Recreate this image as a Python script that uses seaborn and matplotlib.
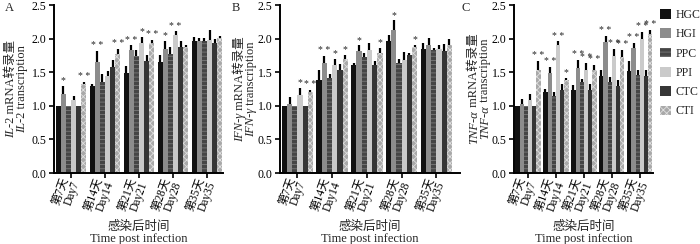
import numpy as np
import pandas as pd
import matplotlib
matplotlib.use("Agg")
import matplotlib.pyplot as plt
import matplotlib.transforms as mtransforms
from matplotlib.patches import Patch
import seaborn as sns

days = ['第7天\nDay7', '第14天\nDay14', '第21天\nDay21', '第28天\nDay28', '第35天\nDay35']
groups = ['HGC', 'HGI', 'PPC', 'PPI', 'CTC', 'CTI']

# IL-2
il2_mean = {
    'HGC': [1.00, 1.29, 1.49, 1.65, 1.96],
    'HGI': [1.17, 1.65, 1.83, 1.85, 1.97],
    'PPC': [1.00, 1.35, 1.74, 1.77, 1.96],
    'PPI': [1.08, 1.44, 1.93, 2.05, 1.98],
    'CTC': [1.00, 1.57, 1.67, 1.87, 1.94],
    'CTI': [1.33, 1.77, 1.94, 1.87, 2.01],
}
il2_err = {
    'HGC': [0.00, 0.04, 0.10, 0.11, 0.06],
    'HGI': [0.13, 0.17, 0.07, 0.12, 0.04],
    'PPC': [0.00, 0.13, 0.09, 0.10, 0.05],
    'PPI': [0.07, 0.08, 0.10, 0.06, 0.15],
    'CTC': [0.00, 0.11, 0.08, 0.09, 0.06],
    'CTI': [0.03, 0.08, 0.04, 0.03, 0.03],
}
il2_stars = [(0, 'HGI', '*'), (0, 'CTI', '* *'), (1, 'HGI', '* *'), (1, 'CTI', '* *'),
             (2, 'HGI', '* *'), (2, 'PPI', '*'), (2, 'CTI', '* *'), (3, 'HGI', '*'), (3, 'PPI', '* *')]

# IFN-gamma
ifn_mean = {
    'HGC': [1.00, 1.38, 1.60, 1.96, 1.85],
    'HGI': [1.03, 1.63, 1.81, 2.13, 1.90],
    'PPC': [1.00, 1.42, 1.72, 1.63, 1.83],
    'PPI': [1.16, 1.61, 1.83, 1.68, 1.85],
    'CTC': [1.00, 1.54, 1.60, 1.75, 1.82],
    'CTI': [1.21, 1.69, 1.79, 1.88, 1.91],
}
ifn_err = {
    'HGC': [0.00, 0.15, 0.04, 0.09, 0.08],
    'HGI': [0.10, 0.11, 0.09, 0.14, 0.11],
    'PPC': [0.00, 0.05, 0.07, 0.07, 0.03],
    'PPI': [0.11, 0.09, 0.10, 0.12, 0.06],
    'CTC': [0.00, 0.08, 0.07, 0.03, 0.10],
    'CTI': [0.03, 0.07, 0.07, 0.03, 0.09],
}
ifn_stars = [(0, 'PPI', '*'), (0, 'CTI', '* *'), (1, 'HGI', '* *'), (1, 'PPI', '*'), (1, 'CTI', '*'),
             (2, 'HGI', '*'), (2, 'CTI', '*'), (3, 'HGI', '*'), (3, 'CTI', '*')]

# TNF-alpha
tnf_mean = {
    'HGC': [1.00, 1.21, 1.23, 1.45, 1.52],
    'HGI': [1.03, 1.49, 1.56, 1.95, 1.86],
    'PPC': [1.00, 1.14, 1.35, 1.35, 1.46],
    'PPI': [1.09, 1.90, 1.53, 1.74, 1.99],
    'CTC': [1.00, 1.23, 1.23, 1.30, 1.45],
    'CTI': [1.53, 1.38, 1.53, 1.73, 2.07],
}
tnf_err = {
    'HGC': [0.00, 0.04, 0.08, 0.08, 0.14],
    'HGI': [0.07, 0.09, 0.12, 0.09, 0.08],
    'PPC': [0.00, 0.07, 0.05, 0.08, 0.08],
    'PPI': [0.08, 0.06, 0.11, 0.11, 0.11],
    'CTC': [0.00, 0.10, 0.09, 0.09, 0.08],
    'CTI': [0.14, 0.03, 0.08, 0.10, 0.06],
}
tnf_stars = [(0, 'CTI', '* *'), (1, 'HGI', '* *'), (1, 'PPI', '* *'), (1, 'CTI', '*'),
             (2, 'HGI', '* *'), (2, 'PPI', '* *'), (2, 'CTI', '* *'),
             (3, 'HGI', '* *'), (3, 'PPI', '* *'), (3, 'CTI', '* *'),
             (4, 'HGI', '* *'), (4, 'PPI', '* *'), (4, 'CTI', '* *')]

colors = {'HGC': '#111111', 'HGI': '#8c8c8c', 'PPC': '#454545',
          'PPI': '#cacaca', 'CTC': '#363636', 'CTI': '#a9a9a9'}
hatches = {'HGC': '', 'HGI': '', 'PPC': '----', 'PPI': '', 'CTC': '', 'CTI': 'xxxxx'}
hatch_col = {'HGC': '#111111', 'HGI': '#8c8c8c', 'PPC': '#7a7a7a',
             'PPI': '#cacaca', 'CTC': '#363636', 'CTI': '#e0e0e0'}

sns.set_style('ticks')
plt.rcParams['font.family'] = ['Liberation Serif', 'Noto Sans CJK SC']
plt.rcParams['hatch.linewidth'] = 0.6

fig = plt.figure(figsize=(7, 2.44), dpi=100)
W, H = 700, 244


def add_ax(x0, x1):
    return fig.add_axes([x0 / W, (H - 173) / H, (x1 - x0) / W, 168 / H])


def vlabel(x, pieces, size=9):
    texts = []
    for s, style in pieces:
        t = fig.text(x / W, (H - 89) / H, s, rotation=90, rotation_mode='anchor',
                     ha='left', va='center', fontsize=size, fontstyle=style)
        texts.append(t)
    fig.canvas.draw()
    r = fig.canvas.get_renderer()
    lens = [t.get_window_extent(r).height for t in texts]
    off = -sum(lens) / 2
    for t, L in zip(texts, lens):
        t.set_transform(fig.transFigure +
                        mtransforms.ScaledTranslation(0, off / fig.dpi, fig.dpi_scale_trans))
        off += L


def panel(ax, means, errs, stars, xmax):
    df = pd.DataFrame([(days[i], g, means[g][i]) for g in groups for i in range(len(days))],
                      columns=['day', 'group', 'value'])
    sns.barplot(data=df, x='day', y='value', hue='group', order=days, hue_order=groups,
                palette=colors, width=0.9, errorbar=None, saturation=1, legend=False, ax=ax)
    centers = {}
    for g, cont in zip(groups, ax.containers):
        xs = []
        for p in cont:
            p.set_hatch(hatches[g])
            p.set_edgecolor(hatch_col[g])
            p.set_linewidth(0)
            xs.append(p.get_x() + p.get_width() / 2)
        centers[g] = xs
        ax.errorbar(xs, means[g], yerr=[np.zeros(len(days)), errs[g]], fmt='none',
                    ecolor='black', elinewidth=1.6, capsize=0)
    for i, g, s in stars:
        ax.text(centers[g][i], means[g][i] + errs[g][i] + 0.01, s, ha='center', va='bottom',
                fontsize=7)
    ax.set_ylim(0, 2.5)
    ax.set_xlim(-0.5, xmax)
    ax.set_yticks([0, 0.5, 1.0, 1.5, 2.0, 2.5])
    ax.set_yticklabels(['0.0', '0.5', '1.0', '1.5', '2.0', '2.5'])
    ax.set_xticks(range(len(days)))
    ax.set_xticklabels(days, rotation=70, ha='right', rotation_mode='anchor', va='center',
                       linespacing=0.95)
    ax.set_xlabel('感染后时间\nTime post infection', fontsize=9, linespacing=1.05, va='top')
    ax.xaxis.set_label_coords(0.5, -0.285)
    ax.set_ylabel('')
    ax.tick_params(axis='y', labelsize=8.5, width=1.2, length=3.5, pad=2, colors='black')
    ax.tick_params(axis='x', labelsize=8.3, width=1.2, length=3.5, pad=1.5, colors='black')
    for sp in ['left', 'bottom']:
        ax.spines[sp].set_linewidth(1.4)
        ax.spines[sp].set_color('black')
    sns.despine(ax=ax)


ax_a = add_ax(54, 223)
panel(ax_a, il2_mean, il2_err, il2_stars, 4.47)
ax_b = add_ax(280, 460)
panel(ax_b, ifn_mean, ifn_err, ifn_stars, 4.68)
ax_c = add_ax(514, 653)
panel(ax_c, tnf_mean, tnf_err, tnf_stars, 4.47)

for x, lab in [(5, 'A'), (232, 'B'), (462, 'C')]:
    fig.text(x / W, (H - 8) / H, lab, fontsize=9, ha='left', va='center')

vlabel(11, [('IL', 'italic'), ('-2 mRNA转录量', 'normal')])
vlabel(22, [('IL', 'italic'), ('-2 transcription', 'normal')])
vlabel(240, [('IFN-γ', 'italic'), (' mRNA转录量', 'normal')])
vlabel(251, [('IFN-γ', 'italic'), (' transcription', 'normal')])
vlabel(474, [('TNF-α', 'italic'), (' mRNA转录量', 'normal')])
vlabel(485, [('TNF-α', 'italic'), (' transcription', 'normal')])

handles = [Patch(facecolor=colors[g], edgecolor=hatch_col[g], hatch=hatches[g], linewidth=0)
           for g in groups]
fig.legend(handles, groups, loc='upper left', bbox_to_anchor=(654 / W, 241 / H), frameon=False,
           fontsize=8.5, handlelength=0.9, handleheight=0.9, labelspacing=0.62, handletextpad=0.4,
           borderaxespad=0.3, borderpad=0.2)

fig.savefig('out.png', dpi=100)
